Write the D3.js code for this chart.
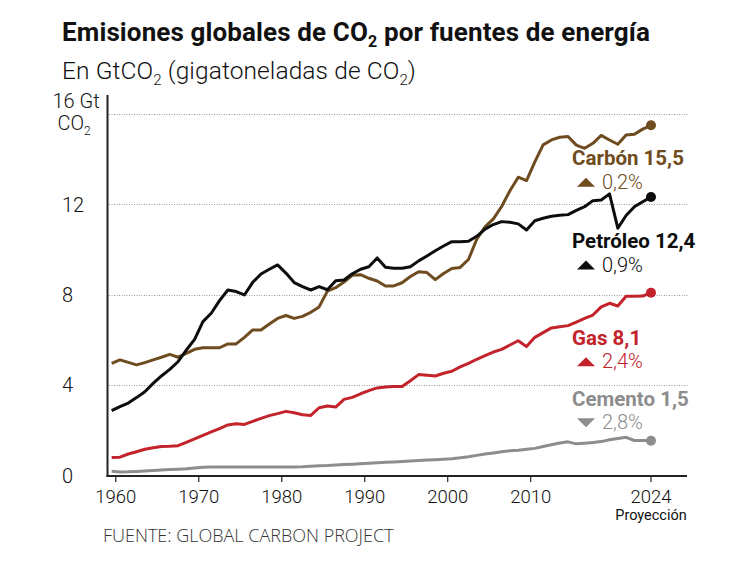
<!DOCTYPE html>
<html><head><meta charset="utf-8">
<script src="https://cdn.jsdelivr.net/npm/d3@7"></script>
<style>
body{margin:0;background:#fff;}
svg{display:block;}
</style></head><body>
<svg id="chart" width="750" height="564"></svg>
<script>
// ---- data (GtCO2, 1959–2024; 2024 = projection) ----
const years = d3.range(1959, 2025);
const coal = [4.95,5.10,4.99,4.88,4.98,5.10,5.22,5.35,5.22,5.39,5.57,5.64,5.64,5.64,5.81,5.81,6.10,6.43,6.43,6.69,6.94,
  7.07,6.94,7.03,7.21,7.45,8.15,8.30,8.55,8.85,8.88,8.72,8.60,8.38,8.38,8.52,8.80,9.01,8.97,8.66,8.93,9.15,
  9.20,9.55,10.45,11.00,11.35,11.90,12.60,13.20,13.05,13.88,14.63,14.85,14.97,15.00,14.62,14.48,14.70,15.05,14.85,
  14.66,15.07,15.10,15.33,15.50];
const oil = [2.85,3.03,3.19,3.43,3.69,4.06,4.39,4.68,5.02,5.54,6.01,6.80,7.17,7.73,8.20,8.13,7.98,8.54,8.91,9.12,9.31,
  8.95,8.53,8.35,8.20,8.35,8.21,8.61,8.64,8.92,9.12,9.23,9.62,9.21,9.16,9.16,9.23,9.49,9.71,9.94,10.15,10.34,
  10.34,10.36,10.58,10.90,11.10,11.23,11.20,11.13,10.86,11.27,11.38,11.47,11.51,11.54,11.73,11.89,12.16,12.19,12.46,
  10.94,11.50,11.89,12.11,12.32];
const gas = [0.78,0.79,0.93,1.03,1.14,1.21,1.26,1.27,1.30,1.45,1.60,1.76,1.91,2.06,2.22,2.27,2.24,2.38,2.51,2.63,2.72,
  2.82,2.76,2.67,2.64,2.98,3.06,3.01,3.35,3.44,3.60,3.74,3.86,3.90,3.92,3.92,4.18,4.45,4.42,4.39,4.51,4.60,
  4.79,4.95,5.13,5.29,5.45,5.57,5.76,5.95,5.69,6.10,6.31,6.52,6.57,6.62,6.78,6.94,7.09,7.45,7.61,
  7.49,7.92,7.92,7.93,8.08];
const cement = [0.17,0.13,0.14,0.16,0.18,0.20,0.22,0.24,0.26,0.28,0.31,0.34,0.35,0.35,0.35,0.35,0.35,0.35,0.35,0.35,0.35,
  0.35,0.36,0.37,0.39,0.41,0.42,0.44,0.46,0.48,0.50,0.52,0.54,0.56,0.58,0.60,0.62,0.64,0.66,0.68,0.70,0.72,
  0.76,0.81,0.87,0.93,0.98,1.03,1.07,1.10,1.14,1.18,1.26,1.34,1.42,1.47,1.38,1.41,1.44,1.48,1.56,
  1.62,1.67,1.53,1.53,1.52];

const seriesNames = ["Carbón","Petróleo","Gas","Cemento"];
const lastValueLabels = ["15,5","12,4","8,1","1,5"];
const changeLabels = ["0,2%","0,9%","2,4%","2,8%"];
const changeDirs = ["up","up","up","down"];
const colors = ["#6f4c20","#0d0d0d","#c3232b","#8d8d8d"];
const labelOffsets = [40, 51, 52, -35];   // label baseline offset from the series' last point

const yTicks = [0, 4, 8, 12, 16];
const xTicks = [1960, 1970, 1980, 1990, 2000, 2010];
const lastYear = 2024;

const titleText = "Emisiones globales de CO";
const subtitleText = "En GtCO";
const sourceText = "FUENTE: GLOBAL CARBON PROJECT";

// ---- drawing ----
const svg = d3.select("#chart");
const x = d3.scaleLinear().domain([1959, 2024.5]).range([107.5, 651]);
const y = d3.scaleLinear().domain([0, 16]).range([475, 114]);
const xPt = yr => x(yr + 0.5);   // annual values at mid-year

const FONT = "Roboto, 'Liberation Sans', sans-serif";

// Title
const t = svg.append("text").attr("x", 62).attr("y", 41)
  .attr("font-family", FONT).attr("font-weight", 700).attr("font-size", 26)
  .attr("letter-spacing", 0.12).attr("fill", "#111");
t.append("tspan").text(titleText);
t.append("tspan").attr("font-size", 16).attr("dy", 6).text("2");
t.append("tspan").attr("dy", -6).text(" por fuentes de energía");

const st = svg.append("text").attr("x", 62).attr("y", 79)
  .attr("font-family", FONT).attr("font-weight", 300).attr("font-size", 24.5)
  .attr("letter-spacing", 0.1).attr("fill", "#111");
st.append("tspan").text(subtitleText);
st.append("tspan").attr("font-size", 15).attr("dy", 6).text("2");
st.append("tspan").attr("dy", -6).text(" (gigatoneladas de CO");
st.append("tspan").attr("font-size", 15).attr("dy", 6).text("2");
st.append("tspan").attr("dy", -6).text(")");

// Gridlines
svg.append("g").selectAll("line").data(yTicks.filter(d => d > 0)).join("line")
  .attr("x1", 109).attr("x2", 688)
  .attr("y1", d => Math.round(y(d)) + 0.5).attr("y2", d => Math.round(y(d)) + 0.5)
  .attr("stroke", "#9a9a9a").attr("stroke-width", 1).attr("stroke-dasharray", "1,1.5");

// Y labels
const yl = svg.append("g").attr("font-family", FONT).attr("font-weight", 300)
  .attr("font-size", 20).attr("fill", "#111");
yl.selectAll("text.v").data(yTicks.filter(d => d < 16)).join("text").attr("class", "v")
  .attr("x", 62).attr("y", d => y(d) + 7.5).text(d => d);
const topV = yTicks[yTicks.length - 1];
yl.append("text").attr("x", 76).attr("y", y(topV) - 6).attr("text-anchor", "middle").text(topV + " Gt");
const co = yl.append("text").attr("x", 74).attr("y", y(topV) + 16).attr("text-anchor", "middle");
co.append("tspan").text("CO");
co.append("tspan").attr("font-size", 12).attr("dy", 5).text("2");

// Axes lines
svg.append("line").attr("x1", 107.5).attr("x2", 107.5).attr("y1", 95).attr("y2", 477)
  .attr("stroke", "#222").attr("stroke-width", 2);
svg.append("line").attr("x1", 106.5).attr("x2", 687).attr("y1", 476).attr("y2", 476)
  .attr("stroke", "#222").attr("stroke-width", 2);

// X ticks & labels
const xtickData = xTicks.map(v => ({v, px: x(v), label: String(v)}))
  .concat([{v: lastYear, px: xPt(lastYear), label: String(lastYear)}]);
const xt = svg.append("g");
xt.selectAll("line").data(xtickData).join("line")
  .attr("x1", d => d.px).attr("x2", d => d.px).attr("y1", 476).attr("y2", 482)
  .attr("stroke", "#222").attr("stroke-width", 1.2);
xt.selectAll("text").data(xtickData).join("text")
  .attr("x", d => d.px).attr("y", 503).attr("text-anchor", "middle")
  .attr("font-family", FONT).attr("font-weight", 300).attr("font-size", 18.5).attr("fill", "#111")
  .text(d => d.label);
svg.append("text").attr("x", xPt(lastYear)).attr("y", 520).attr("text-anchor", "middle")
  .attr("font-family", FONT).attr("font-weight", 400).attr("font-size", 14.5).attr("fill", "#111")
  .text("Proyección");

// Lines
const allSeries = [coal, oil, gas, cement];
const drawOrder = [3, 2, 0, 1];
const line = d3.line().x(d => xPt(d[0])).y(d => y(d[1]));
drawOrder.forEach(i => {
  const pts = years.map((yr, k) => [yr, allSeries[i][k]]);
  svg.append("path").attr("d", line(pts)).attr("fill", "none")
    .attr("stroke", colors[i]).attr("stroke-width", 3)
    .attr("stroke-linejoin", "round").attr("stroke-linecap", "butt");
  const last = pts[pts.length - 1];
  svg.append("circle").attr("cx", xPt(last[0])).attr("cy", y(last[1])).attr("r", 5).attr("fill", colors[i]);
});

// Labels
const labelX = xPt(lastYear) - 79;
allSeries.forEach((s, i) => {
  const base = y(s[s.length - 1]) + labelOffsets[i];
  const g = svg.append("g").attr("font-family", FONT).attr("fill", colors[i]);
  g.append("text").attr("x", labelX).attr("y", base)
    .attr("font-weight", 700).attr("font-size", 20.5).attr("letter-spacing", 0)
    .text(seriesNames[i] + " " + lastValueLabels[i]);
  g.append("text").attr("x", labelX + 30).attr("y", base + 23.5)
    .attr("font-weight", 300).attr("font-size", 20)
    .text(changeLabels[i]);
  const cx = labelX + 14, cy = base + 17;
  const p = d3.path();
  if (changeDirs[i] === "up") {
    p.moveTo(cx - 9, cy + 4.5); p.lineTo(cx + 9, cy + 4.5); p.lineTo(cx, cy - 4.5);
  } else {
    p.moveTo(cx - 9, cy - 4.5); p.lineTo(cx + 9, cy - 4.5); p.lineTo(cx, cy + 4.5);
  }
  p.closePath();
  g.append("path").attr("d", p.toString());
});

// Source
svg.append("text").attr("x", 103).attr("y", 542)
  .attr("font-family", "'Open Sans', sans-serif").attr("font-weight", 300)
  .attr("font-size", 18).attr("fill", "#333").text(sourceText);
</script>
</body></html>
